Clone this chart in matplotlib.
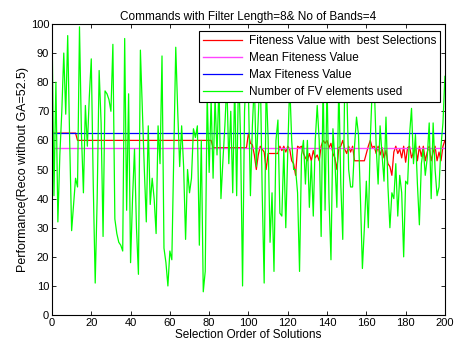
import numpy as np
import matplotlib
matplotlib.use("Agg")
import matplotlib.pyplot as plt

plt.rcParams["font.family"] = ["Liberation Sans", "DejaVu Sans"]

# Number of feature-vector elements used per selected solution
fv_elements = [
    100, 41, 80, 32, 55, 70, 90, 69, 96, 60,
    29, 38, 47, 44, 99, 62, 42, 72, 58, 75,
    88, 45, 11, 40, 84, 66, 27, 77, 76, 74,
    70, 93, 33, 28, 25, 24, 22, 95, 36, 76,
    18, 40, 57, 30, 14, 91, 70, 50, 32, 65,
    38, 47, 40, 28, 65, 52, 89, 23, 18, 10,
    22, 19, 55, 92, 70, 51, 65, 51, 26, 50,
    42, 47, 64, 61, 65, 24, 60, 8, 15, 76,
    49, 74, 47, 75, 55, 80, 40, 53, 65, 80,
    52, 70, 42, 80, 41, 85, 60, 10, 70, 85,
    76, 41, 65, 80, 51, 68, 85, 42, 11, 80,
    61, 25, 42, 15, 60, 67, 35, 34, 57, 30,
    56, 80, 60, 50, 50, 42, 15, 55, 60, 45,
    60, 37, 53, 34, 60, 72, 60, 27, 80, 36,
    80, 40, 19, 64, 53, 37, 80, 45, 26, 80,
    80, 50, 44, 44, 58, 68, 62, 40, 16, 30,
    46, 30, 60, 78, 80, 58, 45, 65, 55, 46,
    68, 44, 30, 42, 40, 52, 34, 48, 42, 20,
    46, 45, 62, 71, 52, 62, 45, 31, 52, 57,
    48, 54, 66, 40, 66, 50, 41, 44, 58, 66,
    82,
]

# Fitness value obtained with the best selections so far
best_fitness = (
    [62.5] * 13
    + [60.0] * 69
    + [57.5] * 18
    + [62.5, 59, 58.5, 55, 50, 55, 58, 57, 56, 50,
       55.5, 55.5, 55.5, 55.5, 55.5, 55.5, 58, 56.5, 58, 56,
       58, 57, 53, 52, 48, 58, 57.5, 58, 55.5, 54,
       53, 55.5, 53, 56.5, 54, 55, 53, 58, 60, 59,
       60, 57.5, 59, 55.5, 54, 50, 57.5, 58, 60, 57,
       55.5, 58, 56, 58, 53, 53, 53, 53, 53, 53,
       55.5, 58, 60, 57.5, 58, 55.5, 58, 55, 57.5, 54,
       56.5, 52, 51, 48, 56, 58, 55.5, 57, 54, 58,
       52.5, 57.5, 58, 54, 56, 58, 53, 58, 54.5, 58,
       53, 56, 58, 53, 56, 58, 53, 56, 53, 58,
       60]
)

mean_fitness = 57.5
max_fitness = 62.5

order = np.arange(len(fv_elements))

fig = plt.figure(figsize=(4.54, 3.47), dpi=100)
ax = fig.add_axes([0.1145, 0.092, 0.8655, 0.839])

ax.plot(order, best_fitness, color="#ff0000", lw=0.9,
        label="Fiteness Value with  best Selections")
ax.plot(order, np.full(len(order), mean_fitness), color="#ff44ff", lw=1.0,
        label="Mean Fiteness Value")
ax.plot(order, np.full(len(order), max_fitness), color="#0000ff", lw=0.9,
        label="Max Fiteness Value")
ax.plot(order, fv_elements, color="#00ff00", lw=0.9,
        label="Number of FV elements used")

ax.set_xlim(0, 200)
ax.set_ylim(0, 100)
ax.set_xticks(np.arange(0, 201, 20))
ax.set_yticks(np.arange(0, 101, 10))
ax.tick_params(direction="in", top=True, right=True, labelsize=8,
               length=3, width=0.6, pad=2)
for s in ax.spines.values():
    s.set_linewidth(0.8)

ax.set_title("Commands with Filter Length=8& No of Bands=4", fontsize=8.5, pad=3)
ax.set_xlabel("Selection Order of Solutions", fontsize=8.5, labelpad=1)
ax.set_ylabel("Performance(Reco without GA=52.5)", fontsize=9, labelpad=1)

leg = ax.legend(loc="upper right", bbox_to_anchor=(0.988, 0.975), fontsize=8.5,
                frameon=True, fancybox=False, handlelength=3.3,
                borderpad=0.35, labelspacing=0.42, handletextpad=0.6,
                borderaxespad=0.0)
leg.get_frame().set_edgecolor("black")
leg.get_frame().set_linewidth(0.8)
leg.get_frame().set_alpha(1.0)

fig.savefig("out.png", dpi=100)
